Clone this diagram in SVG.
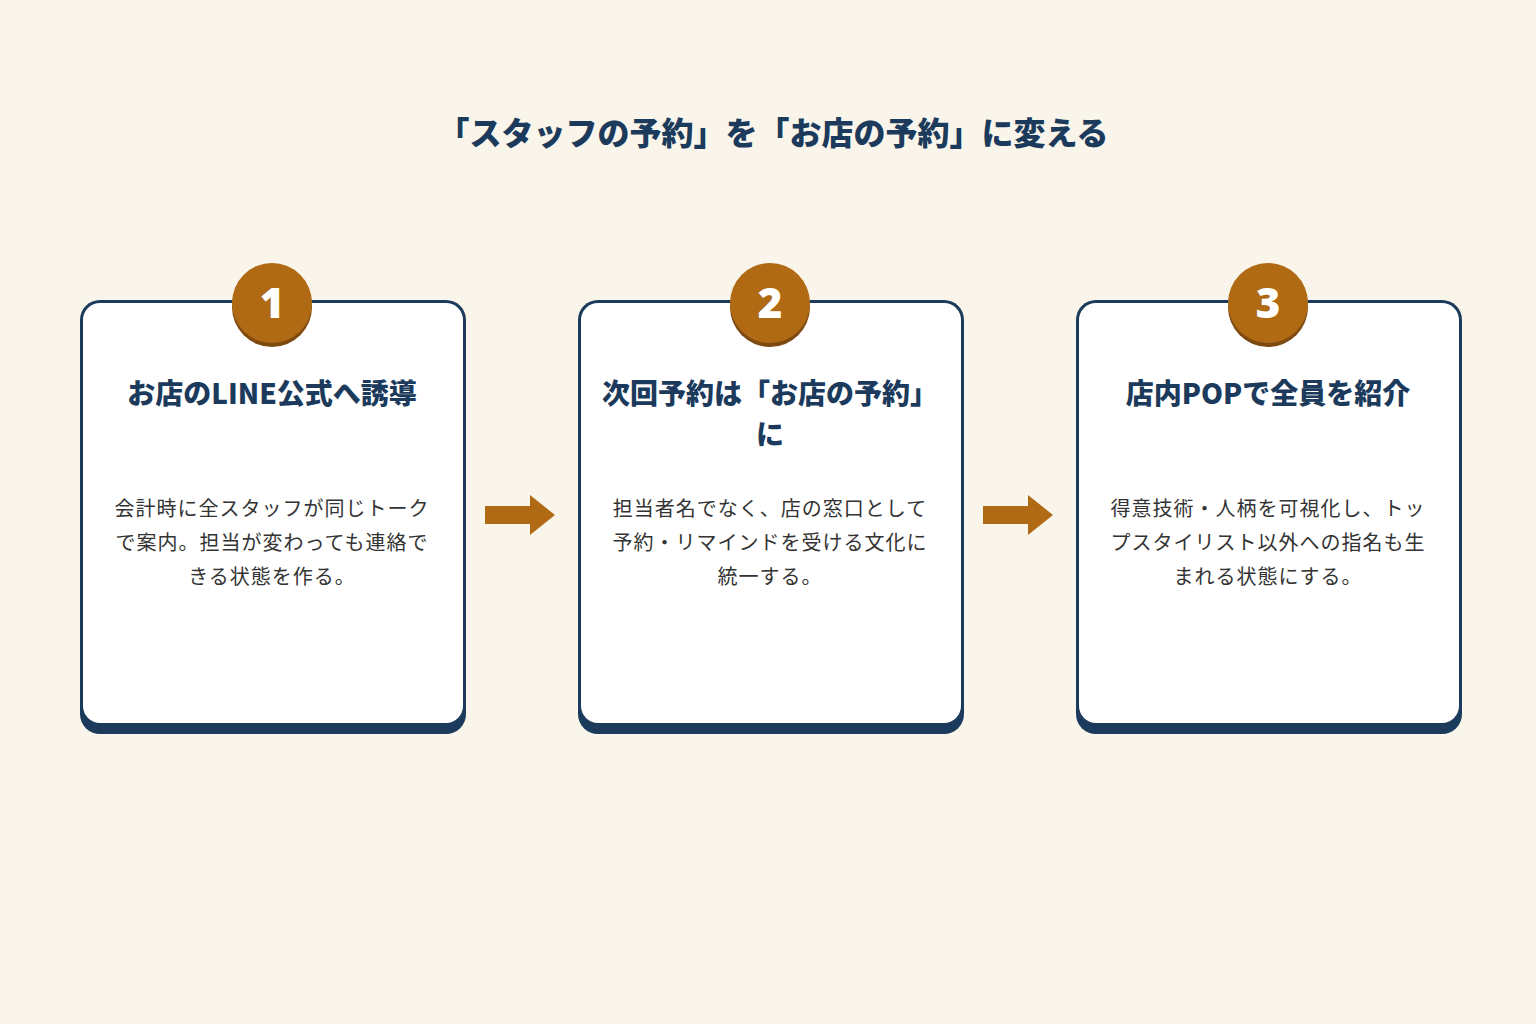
<svg xmlns="http://www.w3.org/2000/svg" width="1536" height="1024" viewBox="0 0 1536 1024">
<style>
.t{font-family:"Noto Sans CJK JP","Noto Sans",sans-serif;font-weight:900;fill:#1b3a5c;text-anchor:middle}
.b{font-family:"Noto Sans CJK JP","Noto Sans",sans-serif;font-size:20px;letter-spacing:1px;fill:#333;text-anchor:middle}
.n{font-family:"Noto Sans","DejaVu Sans",sans-serif;font-weight:900;font-size:42px;fill:#fff;text-anchor:middle}
</style>
<defs>
<g id="card">
<rect x="0" y="0" width="386" height="434" rx="20" fill="#1b3a5c"/>
<rect x="3" y="3" width="380" height="420" rx="17" fill="#fff"/>
<circle cx="192" cy="7" r="40" fill="#7f4a12"/>
<circle cx="192" cy="3" r="40" fill="#b06a14"/>
</g>
<polygon id="arr" points="0,-9 45,-9 45,-20 70,0 45,20 45,9 0,9" fill="#b06a14"/>
</defs>
<rect width="1536" height="1024" fill="#f9f5eb"/>
<text class="t" x="773" y="145" font-size="32">「スタッフの予約」を「お店の予約」に変える</text>
<g id="node1" transform="translate(80,300)">
<use href="#card"/>
<text class="n" x="192" y="18">1</text>
<text class="t" x="192" y="104" font-size="28">お店のLINE公式へ誘導</text>
<text class="b" x="192" y="216">会計時に全スタッフが同じトーク</text>
<text class="b" x="192" y="250">で案内。担当が変わっても連絡で</text>
<text class="b" x="192" y="284">きる状態を作る。</text>
</g>
<g id="node2" transform="translate(578,300)">
<use href="#card"/>
<text class="n" x="192" y="18">2</text>
<text class="t" x="192" y="104" font-size="28">次回予約は「お店の予約」</text>
<text class="t" x="192" y="145" font-size="28">に</text>
<text class="b" x="192" y="216">担当者名でなく、店の窓口として</text>
<text class="b" x="192" y="250">予約・リマインドを受ける文化に</text>
<text class="b" x="192" y="284">統一する。</text>
</g>
<g id="node3" transform="translate(1076,300)">
<use href="#card"/>
<text class="n" x="192" y="18">3</text>
<text class="t" x="192" y="104" font-size="28">店内POPで全員を紹介</text>
<text class="b" x="192" y="216">得意技術・人柄を可視化し、トッ</text>
<text class="b" x="192" y="250">プスタイリスト以外への指名も生</text>
<text class="b" x="192" y="284">まれる状態にする。</text>
</g>
<g id="connectors">
<use href="#arr" x="485" y="515"/>
<use href="#arr" x="983" y="515"/>
</g>
</svg>
